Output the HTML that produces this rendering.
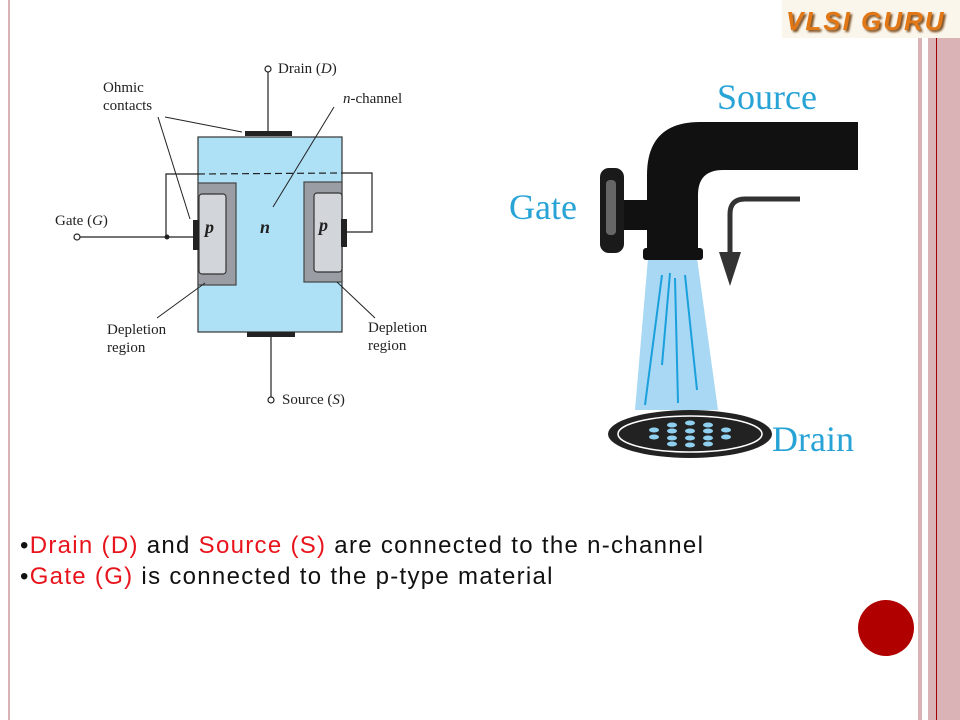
<!DOCTYPE html>
<html><head><meta charset="utf-8"><style>
body{margin:0;width:960px;height:720px;background:#fff;position:relative;overflow:hidden;font-family:"Liberation Sans",sans-serif}
.a{position:absolute}
.t{position:absolute;font-family:"Liberation Serif",serif;font-size:15px;color:#222;line-height:18px}
.b{position:absolute;left:20px;font-size:24px;color:#111;font-family:"Liberation Sans",sans-serif;letter-spacing:1.3px}
.r{color:#e8141c}
</style></head><body>
<div class="a" style="left:8px;top:0;width:2px;height:720px;background:#d9b3b5"></div>
<div class="a" style="left:918px;top:38px;width:4px;height:682px;background:#d9b3b5"></div>
<div class="a" style="left:928px;top:38px;width:32px;height:682px;background:#d9b3b5"></div>
<div class="a" style="left:936px;top:38px;width:1px;height:682px;background:#a00000"></div>
<div class="a" style="left:782px;top:0;width:178px;height:38px;background:#fbf6ec"></div>
<div class="a" style="left:786px;top:6px;font-size:26px;font-weight:bold;font-style:italic;color:#e27716;letter-spacing:2px;text-shadow:2px 2px 2px #7a4a1a">VLSI GURU</div>
<div class="a" style="left:858px;top:600px;width:56px;height:56px;border-radius:50%;background:#b00000"></div>

<svg class="a" style="left:0;top:0" width="960" height="720">
<g stroke="#222" stroke-width="1.2" fill="none">
<rect x="198" y="137" width="144" height="195" fill="#aee0f6" stroke="#333"/>
<rect x="198" y="183" width="38" height="102" fill="#9a9ea4" stroke="#444"/>
<rect x="199" y="194" width="27" height="80" rx="3" fill="#d2d5d9" stroke="#333"/>
<rect x="304" y="182" width="38" height="100" fill="#9a9ea4" stroke="#444"/>
<rect x="314" y="193" width="28" height="79" rx="3" fill="#d2d5d9" stroke="#333"/>
<line x1="198" y1="174" x2="342" y2="173" stroke-dasharray="7,4"/>
<polyline points="198,174 166,174 166,237"/>
<polyline points="342,173 372,173 372,232 346,232"/>
<line x1="80" y1="237" x2="193" y2="237"/>
<line x1="268" y1="72" x2="268" y2="132"/>
<line x1="271" y1="337" x2="271" y2="397"/>
<line x1="165" y1="117" x2="242" y2="132" stroke-width="1"/>
<line x1="158" y1="117" x2="190" y2="219" stroke-width="1"/>
<line x1="334" y1="107" x2="273" y2="207" stroke-width="1"/>
<line x1="157" y1="318" x2="205" y2="283" stroke-width="1"/>
<line x1="375" y1="318" x2="337" y2="282" stroke-width="1"/>
<circle cx="268" cy="69" r="3" fill="#fff"/>
<circle cx="271" cy="400" r="3" fill="#fff"/>
<circle cx="77" cy="237" r="3" fill="#fff"/>
</g>
<circle cx="167" cy="237" r="2.5" fill="#222"/>
<rect x="245" y="131" width="47" height="5" fill="#222"/>
<rect x="247" y="332" width="48" height="5" fill="#222"/>
<rect x="193" y="220" width="6" height="30" fill="#222"/>
<rect x="341" y="219" width="6" height="28" fill="#222"/>

<polygon points="648,258 697,258 718,410 635,410" fill="#a8d8f4"/>
<g stroke="#1aa0dc" stroke-width="2" fill="none">
<path d="M662,275 L645,405"/><path d="M670,273 L662,365"/><path d="M675,278 L678,403"/><path d="M685,275 L697,390"/>
</g>
<path d="M858,122 L700,122 Q647,122 647,175 L647,253 L698,253 L698,195 Q698,170 723,170 L858,170 Z" fill="#111"/>
<rect x="643" y="248" width="60" height="12" rx="3" fill="#111"/>
<rect x="620" y="200" width="30" height="30" fill="#111"/>
<rect x="600" y="168" width="24" height="85" rx="9" fill="#1a1a1a"/>
<rect x="606" y="180" width="10" height="55" rx="4" fill="#666"/>
<path d="M800,199 L745,199 Q730,199 730,214 L730,268" stroke="#333" stroke-width="5" fill="none"/>
<polygon points="719,252 741,252 730,286" fill="#333"/>
<ellipse cx="690" cy="434" rx="82" ry="24" fill="#222"/>
<ellipse cx="690" cy="434" rx="72" ry="18" fill="none" stroke="#fff" stroke-width="1.5"/>
<ellipse cx="690" cy="434" rx="58" ry="13" fill="#222"/>
<g fill="#8fd0f0">
<ellipse cx="690" cy="423" rx="5" ry="2.5"/><ellipse cx="672" cy="425" rx="5" ry="2.5"/><ellipse cx="708" cy="425" rx="5" ry="2.5"/>
<ellipse cx="654" cy="430" rx="5" ry="2.5"/><ellipse cx="672" cy="431" rx="5" ry="2.5"/><ellipse cx="690" cy="431" rx="5" ry="2.5"/><ellipse cx="708" cy="431" rx="5" ry="2.5"/><ellipse cx="726" cy="430" rx="5" ry="2.5"/>
<ellipse cx="654" cy="437" rx="5" ry="2.5"/><ellipse cx="672" cy="438" rx="5" ry="2.5"/><ellipse cx="690" cy="438" rx="5" ry="2.5"/><ellipse cx="708" cy="438" rx="5" ry="2.5"/><ellipse cx="726" cy="437" rx="5" ry="2.5"/>
<ellipse cx="672" cy="444" rx="5" ry="2.5"/><ellipse cx="690" cy="445" rx="5" ry="2.5"/><ellipse cx="708" cy="444" rx="5" ry="2.5"/>
</g>
<g font-family="Liberation Serif,serif" fill="#27a3d6" font-size="36">
<text x="717" y="109">Source</text><text x="509" y="219">Gate</text><text x="772" y="451">Drain</text>
</g>
</svg>

<div class="t" style="left:278px;top:60px">Drain (<i>D</i>)</div>
<div class="t" style="left:103px;top:79px">Ohmic<br>contacts</div>
<div class="t" style="left:343px;top:90px"><i>n</i>-channel</div>
<div class="t" style="left:55px;top:212px">Gate (<i>G</i>)</div>
<div class="t" style="left:205px;top:218px;font-size:18px"><b><i>p</i></b></div>
<div class="t" style="left:260px;top:218px;font-size:18px"><b><i>n</i></b></div>
<div class="t" style="left:319px;top:216px;font-size:18px"><b><i>p</i></b></div>
<div class="t" style="left:107px;top:321px">Depletion<br>region</div>
<div class="t" style="left:368px;top:319px">Depletion<br>region</div>
<div class="t" style="left:282px;top:391px">Source (<i>S</i>)</div>

<div class="b" style="top:532px">•<span class="r">Drain (D)</span> and <span class="r">Source (S)</span> are connected to the n-channel</div>
<div class="b" style="top:563px">•<span class="r">Gate (G)</span> is connected to the p-type material</div>
</body></html>
